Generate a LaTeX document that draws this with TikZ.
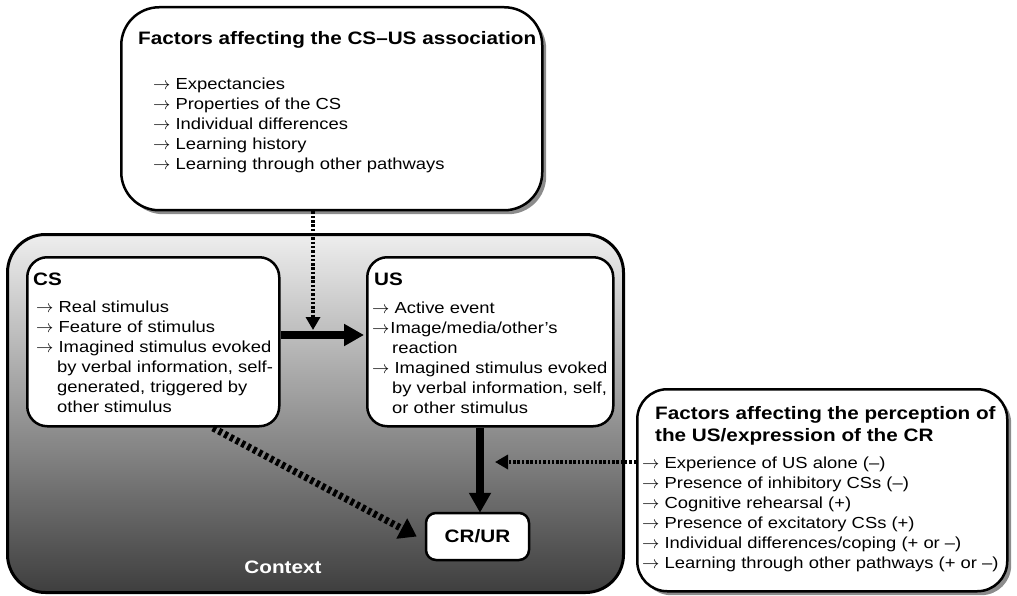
\documentclass[tikz,border=0pt]{standalone}
\usepackage{fontspec}
\setmainfont{Liberation Sans}[FakeStretch=1.15]
\usetikzlibrary{arrows.meta}
\definecolor{ctxtop}{HTML}{EEEEEE}
\definecolor{ctxmid}{HTML}{A6A6A6}
\definecolor{ctxbot}{HTML}{3E3E3E}
\definecolor{shadowgray}{HTML}{8C8C8C}
\begin{document}
\begin{tikzpicture}[x=1pt,y=-1pt,
  frame/.style={draw=black,line width=2.5pt,fill=white,inner sep=0pt,anchor=north west},
  shadowbox/.style={fill=shadowgray,inner sep=0pt,anchor=north west,draw=none},
  % multi-line texts are placed by the baseline of their last line
  titletext/.style={inner sep=0pt,align=left,anchor=base west,font=\fontsize{18}{22}\selectfont\bfseries},
  listtext/.style={inner sep=0pt,align=left,anchor=base west,font=\fontsize{16}{20}\selectfont},
  solidarrow/.style={line width=8pt,-{Triangle[length=20pt,width=21pt]}},
  dottedarrow/.style={line width=4pt,dash pattern=on 2.5pt off 1.8pt,-{Triangle[length=13pt,width=14pt]}},
  heavydotted/.style={line width=7pt,dash pattern=on 3.5pt off 3pt,-{Triangle[length=17pt,width=22pt]}}
]
\useasboundingbox (0,0) rectangle (1017,596);

% factors affecting the association (top)
\node[shadowbox,rounded corners=38pt,minimum width=421pt,minimum height=203pt] (assocshadow) at (125,11) {};
\node[frame,rounded corners=38pt,minimum width=421pt,minimum height=203pt] (assoc) at (120,6) {};
\node[titletext] (assoctitle) at (138,45) {Factors affecting the CS--US association};
\node[listtext] (assoclist) at (153,170) {%
$\rightarrow$ Expectancies\\
$\rightarrow$ Properties of the CS\\
$\rightarrow$ Individual differences\\
$\rightarrow$ Learning history\\
$\rightarrow$ Learning through other pathways};

% context with its gradient
\node[draw=black,line width=3pt,rounded corners=38pt,inner sep=0pt,anchor=north west,
      minimum width=616pt,minimum height=358pt,
      top color=ctxtop,middle color=ctxmid,bottom color=ctxbot] (context) at (6,233) {};
\node[inner sep=0pt,text=white,font=\fontsize{18}{22}\selectfont\bfseries] (contextlabel) at (283,567) {Context};

% CS
\node[frame,rounded corners=20pt,minimum width=252pt,minimum height=169pt] (cs) at (26,256) {};
\node[titletext] (cstitle) at (33,285) {CS};
\node[listtext] (cslist) at (36,412) {%
$\rightarrow$ Real stimulus\\
$\rightarrow$ Feature of stimulus\\
$\rightarrow$ Imagined stimulus evoked\\
\hspace*{21pt}by verbal information, self-\\
\hspace*{21pt}generated, triggered by\\
\hspace*{21pt}other stimulus};

% US
\node[frame,rounded corners=20pt,minimum width=246pt,minimum height=169pt] (us) at (366,256) {};
\node[titletext] (ustitle) at (374,285) {US};
\node[listtext] (uslist) at (372,413) {%
$\rightarrow$ Active event\\
$\rightarrow$\hspace{1pt}Image/media/other’s\\
\hspace*{20pt}reaction\\
$\rightarrow$ Imagined stimulus evoked\\
\hspace*{20pt}by verbal information, self,\\
\hspace*{20pt}or other stimulus};

% CR/UR
\node[frame,rounded corners=10pt,minimum width=103pt,minimum height=47pt,anchor=center,
      font=\fontsize{18}{22}\selectfont\bfseries] (crur) at (477.5,536.5) {CR/UR};

% factors affecting perception/expression (right)
\node[shadowbox,rounded corners=30pt,minimum width=370pt,minimum height=202pt] (percshadow) at (641,393) {};
\node[frame,rounded corners=30pt,minimum width=370pt,minimum height=202pt] (perc) at (636,388) {};
\node[titletext] (perctitle) at (655,441) {Factors affecting the perception of\\the US/expression of the CR};
\node[listtext] (perclist) at (642,568) {%
$\rightarrow$ Experience of US alone (--)\\
$\rightarrow$ Presence of inhibitory CSs (--)\\
$\rightarrow$ Cognitive rehearsal (+)\\
$\rightarrow$ Presence of excitatory CSs (+)\\
$\rightarrow$ Individual differences/coping (+ or --)\\
$\rightarrow$ Learning through other pathways (+ or --)};

% connectors
\coordinate (pairing) at (313,330);
\coordinate (csfoot) at (213,428);
\draw[solidarrow] (cs.east |- 0,335) -- ([xshift=-2pt]us.west |- 0,335);
\draw[dottedarrow] (assoc.south -| pairing) -- (pairing);
\draw[solidarrow] (us.south -| 480,0) -- ([yshift=-1pt]crur.north -| 480,0);
\draw[dottedarrow] (perc.west |- 0,462) -- (495,462);
\draw[heavydotted] (csfoot) -- ([xshift=-8pt]crur.west);
\end{tikzpicture}
\end{document}
